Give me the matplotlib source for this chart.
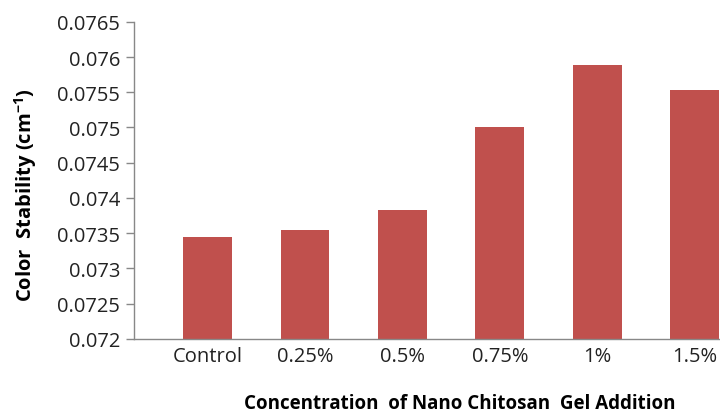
import matplotlib.pyplot as plt
import numpy as np

categories = ["Control", "0.25%", "0.5%", "0.75%", "1%", "1.5%"]
values = [0.07345, 0.07355, 0.07383, 0.0750, 0.07589, 0.07553]
yticks = [0.072, 0.0725, 0.073, 0.0735, 0.074, 0.0745, 0.075, 0.0755, 0.076, 0.0765]
ytick_labels = ["0.072", "0.0725", "0.073", "0.0735", "0.074", "0.0745", "0.075", "0.0755", "0.076", "0.0765"]

plt.rcParams['font.family'] = ['Open Sans', 'DejaVu Sans']

fig = plt.figure(figsize=(7.2, 4.14), dpi=100)
ax = fig.add_axes([0.186, 0.179, 0.881, 0.766])

x = np.arange(len(categories))
ax.bar(x, values, width=0.5, color="#C0504D", bottom=0)
ax.set_xlim(-0.755, 5.755)
ax.set_ylim(0.072, 0.0765)
ax.set_yticks(yticks)
ax.set_yticklabels(ytick_labels, fontsize=14.5, color="#222222")
ax.set_xticks(x)
ax.set_xticklabels(categories, fontsize=14.5, color="#222222")
ax.tick_params(axis='x', length=0, pad=5)
ax.tick_params(axis='y', length=6, width=1, color="#888888", direction='out', pad=4)
for s in ['top', 'right']:
    ax.spines[s].set_visible(False)
for s in ['left', 'bottom']:
    ax.spines[s].set_color("#888888")
    ax.spines[s].set_linewidth(1)

fig.text(0.638, 0.024, "Concentration  of Nano Chitosan  Gel Addition",
         ha='center', va='center', fontsize=13.5, fontweight='bold')
fig.text(0.035, 0.529, r"Color  Stability (cm$^{\mathregular{-1}}$)", rotation=90,
         ha='center', va='center', fontsize=14.5, fontweight='bold')

plt.savefig("out.png", dpi=100)
